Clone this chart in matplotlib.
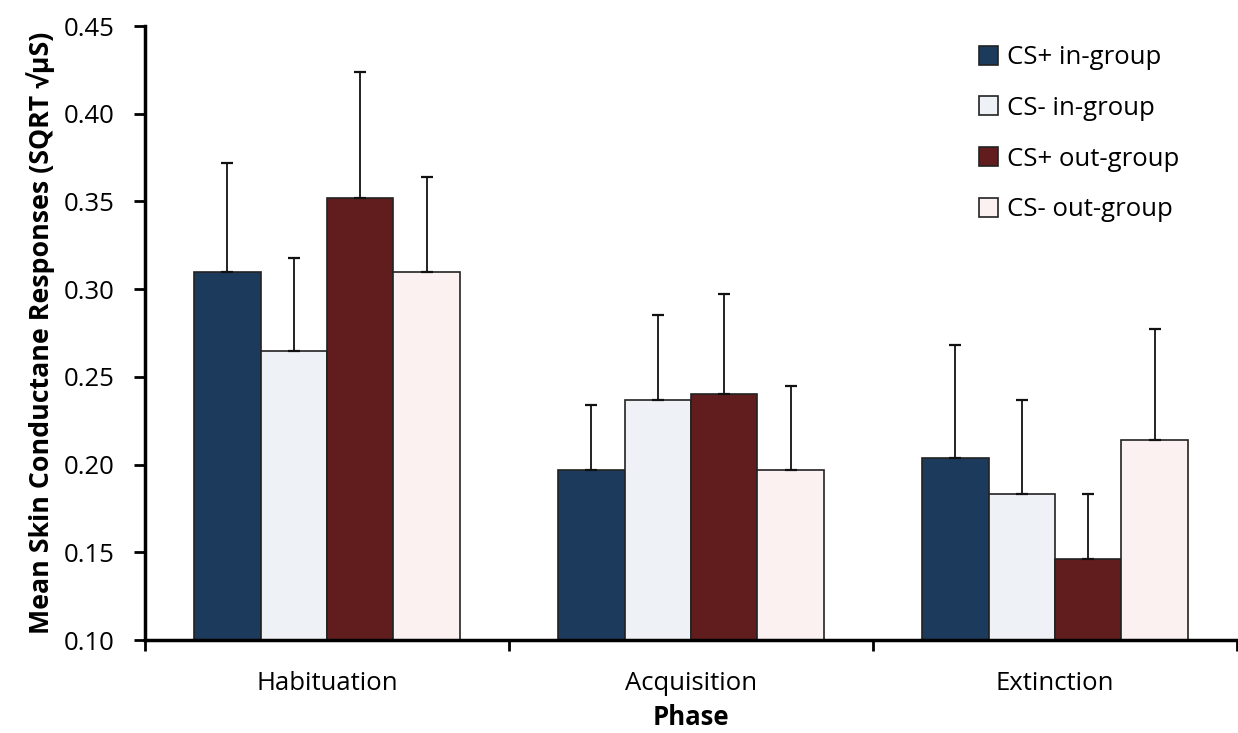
import numpy as np
import matplotlib
matplotlib.use("Agg")
import matplotlib.pyplot as plt
from matplotlib.ticker import FixedLocator

plt.rcParams['font.family'] = ['Open Sans', 'DejaVu Sans']

phases = ["Habituation", "Acquisition", "Extinction"]
series = ["CS+ in-group", "CS- in-group", "CS+ out-group", "CS- out-group"]
colors = ["#1B3A5C", "#EEF2F7", "#611D1D", "#FBF1F1"]

# means per series across phases
cs_plus_in = [0.310, 0.197, 0.204]
cs_minus_in = [0.265, 0.237, 0.183]
cs_plus_out = [0.352, 0.240, 0.146]
cs_minus_out = [0.310, 0.197, 0.214]

# upper error-bar ends per series across phases
cs_plus_in_up = [0.372, 0.234, 0.268]
cs_minus_in_up = [0.318, 0.285, 0.237]
cs_plus_out_up = [0.424, 0.297, 0.183]
cs_minus_out_up = [0.364, 0.245, 0.277]

means = [cs_plus_in, cs_minus_in, cs_plus_out, cs_minus_out]
uppers = [cs_plus_in_up, cs_minus_in_up, cs_plus_out_up, cs_minus_out_up]

yticks = [0.10, 0.15, 0.20, 0.25, 0.30, 0.35, 0.40, 0.45]

fig = plt.figure(figsize=(12.38, 7.33), dpi=100)
ax = fig.add_axes([145/1238, 93/733, (1237-145)/1238, (640-26)/733])

x = np.arange(len(phases))
bw = 0.1825
for i, (m, u, c) in enumerate(zip(means, uppers, colors)):
    pos = x + (i - 1.5) * bw
    m = np.array(m); u = np.array(u)
    ax.bar(pos, m - 0.10, bottom=0.10, width=bw, color=c, edgecolor="#222222",
           linewidth=1.2, label=series[i], zorder=2)
    ax.errorbar(pos, m, yerr=[np.zeros_like(m), u - m], fmt='none', ecolor="#111111",
                elinewidth=1.3, capsize=4, capthick=1.6, zorder=3)

ax.set_xlim(-0.5, 2.5)
ax.set_ylim(0.10, 0.45)
ax.set_yticks(yticks)
ax.set_yticklabels([f"{t:.2f}" for t in yticks], fontsize=18.5)
ax.set_xticks(x)
ax.set_xticklabels(phases, fontsize=18.5)
ax.xaxis.set_minor_locator(FixedLocator([-0.5, 0.5, 1.5, 2.5]))
ax.tick_params(axis='x', which='major', length=0, pad=22)
ax.tick_params(axis='x', which='minor', length=8, width=2, direction='out')
ax.tick_params(axis='y', length=8, width=2, direction='out', pad=14)

for s in ['top', 'right']:
    ax.spines[s].set_visible(False)
for s in ['left', 'bottom']:
    ax.spines[s].set_linewidth(2.5)

ax.set_ylabel("Mean Skin Conductane Responses (SQRT \u221a\u03bcS)", fontsize=19.3,
              fontweight='bold', labelpad=6)
ax.set_xlabel("Phase", fontsize=18.5, fontweight='bold', labelpad=6)

leg = ax.legend(loc='upper left', bbox_to_anchor=(956/1238, 1 - 22/733),
                bbox_transform=fig.transFigure, frameon=False, fontsize=18.5,
                labelspacing=1.0, handlelength=0.75, handleheight=0.75,
                handletextpad=0.35)

fig.savefig("out.png", dpi=100)
